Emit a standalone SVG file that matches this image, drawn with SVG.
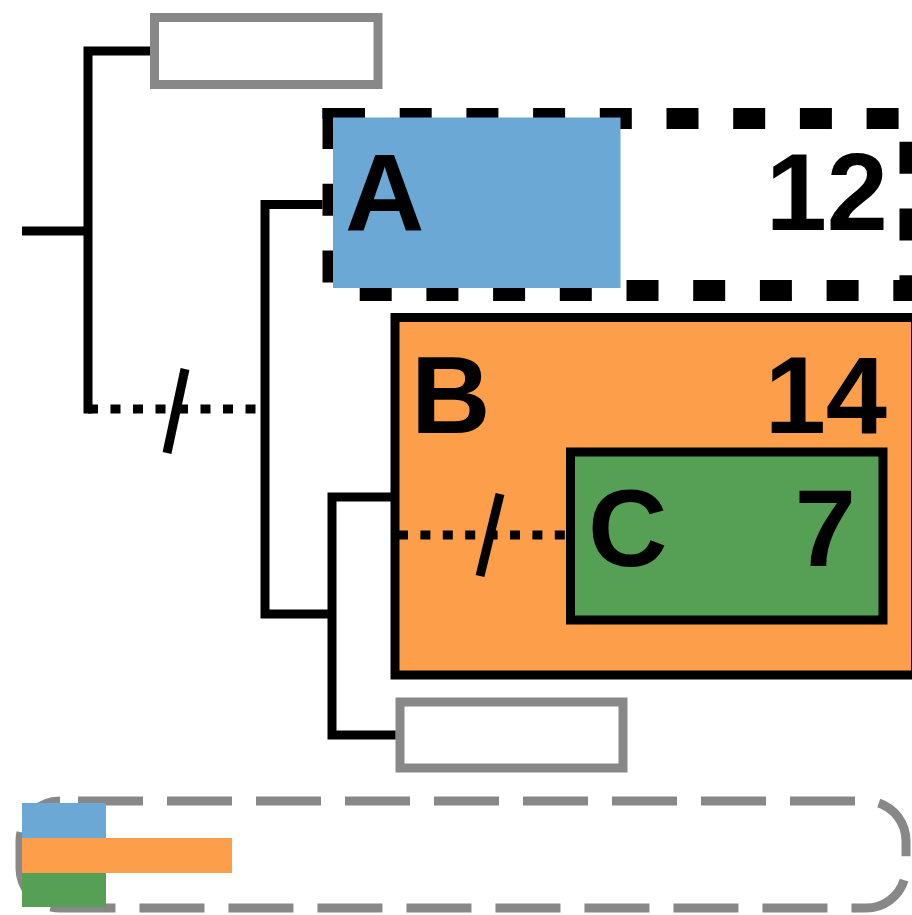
<svg xmlns="http://www.w3.org/2000/svg" width="912" height="915" viewBox="0 0 912 915">
<style>
.t{font-family:"Liberation Sans",Arial,sans-serif;font-weight:bold;font-size:110px;fill:#000}
.ln{fill:none;stroke:#000;stroke-width:9;stroke-linejoin:miter;stroke-linecap:butt}
.dot{fill:none;stroke:#000;stroke-width:9}
.leaf{fill:#fff;stroke:#888;stroke-width:9}
</style>
<rect width="912" height="915" fill="#fff"/>
<g id="leaf-top">
<rect class="leaf" x="154.5" y="17.5" width="223.5" height="67"/>
</g>
<g id="node-A">
<rect x="333" y="118.5" width="577" height="172" fill="none" stroke="#000" stroke-width="21" stroke-dasharray="32 34.7"/>
<rect x="322.5" y="108" width="11" height="11" fill="#000"/>
<rect x="333" y="117.5" width="287.5" height="170.5" fill="#6ba8d5"/>
<text class="t" x="345" y="230">A</text>
<text class="t" x="888" y="230" text-anchor="end">12</text>
</g>
<g id="node-B">
<rect x="395" y="317.5" width="520.5" height="357.5" fill="#fd9e4b" stroke="#000" stroke-width="9"/>
<text class="t" x="411" y="433">B</text>
<text class="t" x="887" y="433" text-anchor="end">14</text>
</g>
<g id="node-C">
<rect x="570.5" y="452" width="312.5" height="168" fill="#55a054" stroke="#000" stroke-width="9"/>
<text class="t" x="588" y="566">C</text>
<text class="t" x="856" y="566" text-anchor="end">7</text>
</g>
<g id="leaf-bottom">
<rect class="leaf" x="400" y="702" width="223" height="66"/>
</g>
<g id="legend">
<rect x="20" y="801" width="886" height="107" rx="40" ry="40" fill="none" stroke="#888" stroke-width="9" stroke-dasharray="65 24" stroke-dashoffset="71"/>
<rect x="22" y="803" width="84" height="35" fill="#6ba8d5"/>
<rect x="22" y="838" width="210" height="35" fill="#fd9e4b"/>
<rect x="22" y="873" width="84" height="34" fill="#55a054"/>
</g>
<g id="connectors">
<path class="ln" d="M22,231 H88"/>
<path class="ln" d="M150,51 H88 V413.5"/>
<path class="dot" d="M88,409 H256" stroke-dasharray="10 12.5"/>
<path class="ln" d="M167,453 L185,369"/>
<path class="ln" d="M322.5,204.5 H265 V614 H332"/>
<path class="ln" d="M391,497 H332 V735 H395.5"/>
<path class="dot" d="M398,535 H566" stroke-dasharray="10 12.4"/>
<path class="ln" d="M480,576 L500,494"/>
</g>
</svg>
